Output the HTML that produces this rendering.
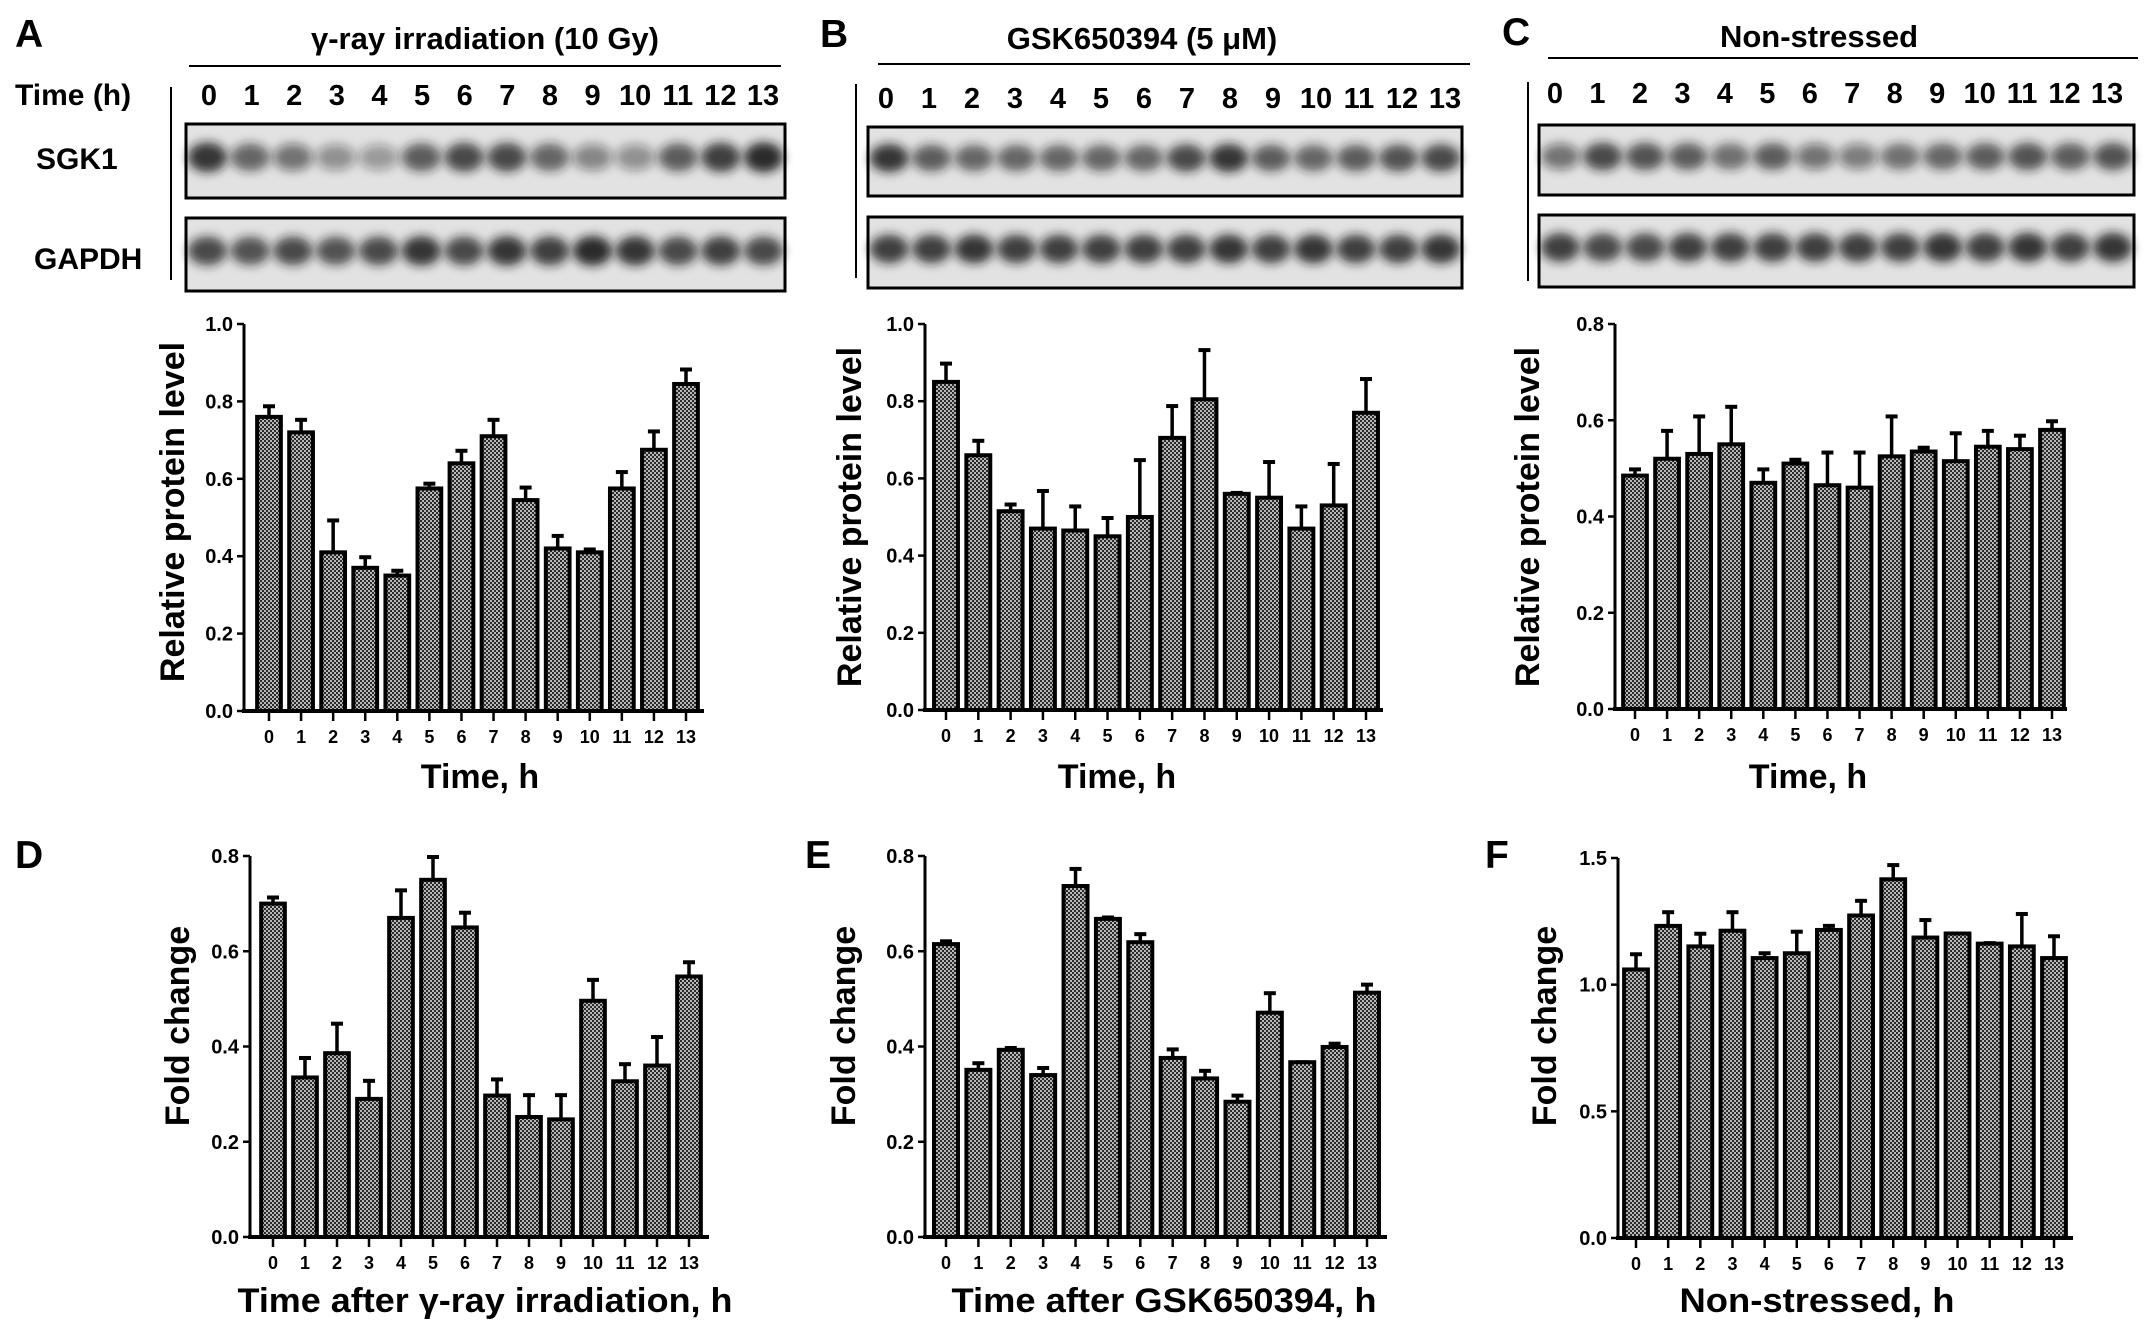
<!DOCTYPE html>
<html><head><meta charset="utf-8"><style>
html,body{margin:0;padding:0;background:#fff;}
svg{display:block;font-family:"Liberation Sans",Arial,sans-serif;font-weight:bold;}
</style></head><body>
<svg id="fig" width="2150" height="1337" viewBox="0 0 2150 1337" xmlns="http://www.w3.org/2000/svg">
<defs>
<pattern id="hatch" width="4" height="4" patternUnits="userSpaceOnUse">
<rect width="4" height="4" fill="#b8b8b8"/><rect width="2" height="2" fill="#2a2a2a"/><rect x="2" y="2" width="2" height="2" fill="#2a2a2a"/>
</pattern>
<filter id="blur" x="-50%" y="-50%" width="200%" height="200%"><feGaussianBlur stdDeviation="5"/></filter>
</defs>
</svg>
<script>
const categories = ['0','1','2','3','4','5','6','7','8','9','10','11','12','13'];
const aValues = [0.76,0.72,0.41,0.37,0.35,0.575,0.64,0.71,0.545,0.42,0.41,0.575,0.675,0.845];
const aErrors = [0.03,0.035,0.085,0.03,0.015,0.015,0.035,0.045,0.035,0.035,0.01,0.045,0.05,0.04];
const bValues = [0.85,0.66,0.515,0.47,0.465,0.45,0.50,0.705,0.805,0.56,0.55,0.47,0.53,0.77];
const bErrors = [0.05,0.04,0.02,0.10,0.065,0.05,0.15,0.085,0.13,0.005,0.095,0.06,0.11,0.09];
const cValues = [0.485,0.52,0.53,0.55,0.47,0.51,0.465,0.46,0.525,0.535,0.515,0.545,0.54,0.58];
const cErrors = [0.015,0.06,0.08,0.08,0.03,0.01,0.07,0.075,0.085,0.01,0.06,0.035,0.03,0.02];
const dValues = [0.70,0.335,0.386,0.29,0.67,0.75,0.65,0.297,0.252,0.247,0.496,0.327,0.36,0.547];
const dErrors = [0.015,0.043,0.064,0.04,0.06,0.05,0.033,0.036,0.048,0.053,0.046,0.038,0.062,0.032];
const eValues = [0.615,0.351,0.393,0.34,0.737,0.668,0.619,0.376,0.333,0.284,0.471,0.367,0.399,0.513];
const eErrors = [0.008,0.016,0.006,0.017,0.038,0.005,0.019,0.02,0.018,0.015,0.043,0.002,0.009,0.019];
const fValues = [1.06,1.232,1.151,1.213,1.105,1.124,1.216,1.273,1.416,1.186,1.202,1.162,1.151,1.105];
const fErrors = [0.064,0.058,0.054,0.077,0.023,0.089,0.02,0.062,0.06,0.073,0.003,0.006,0.132,0.09];
const tickLabels1 = ['0.0','0.2','0.4','0.6','0.8','1.0'];
const tickLabels08 = ['0.0','0.2','0.4','0.6','0.8'];
const tickLabels15 = ['0.0','0.5','1.0','1.5'];
const sgkA = [0.95,0.7,0.6,0.45,0.4,0.75,0.85,0.85,0.7,0.5,0.45,0.75,0.9,1];
const gapA = [0.85,0.8,0.85,0.8,0.85,0.95,0.85,0.95,0.9,1,0.95,0.85,0.9,0.85];
const sgkB = [0.95,0.75,0.7,0.7,0.7,0.7,0.7,0.85,0.95,0.75,0.7,0.75,0.8,0.85];
const gapB = [0.9,0.9,0.95,0.9,0.9,0.9,0.9,0.9,0.95,0.9,0.95,0.9,0.9,0.95];
const sgkC = [0.6,0.85,0.8,0.75,0.65,0.75,0.6,0.55,0.65,0.7,0.75,0.8,0.75,0.8];
const gapC = [0.9,0.85,0.85,0.9,0.9,0.9,0.9,0.9,0.9,0.95,0.9,0.95,0.9,0.95];

const NS='http://www.w3.org/2000/svg';
const svg=document.getElementById('fig');
function mk(tag,attrs,parent){const e=document.createElementNS(NS,tag);for(const k in attrs)e.setAttribute(k,attrs[k]);(parent||svg).appendChild(e);return e;}
function txt(s,attrs,parent){const e=mk('text',attrs,parent);e.textContent=s;return e;}

function panelLetter(s,x,y){
  const t=txt(s,{x:x,y:y,'font-size':39});
  
  
}

function blot(p){
  const g=mk('g',{});
  
  
  const tt=txt(p.title,{x:p.titleX,y:p.titleY,'font-size':31,'text-anchor':'middle'},g);
  
  
  const ln=mk('line',{x1:p.lineX1,x2:p.lineX2,y1:p.lineY,y2:p.lineY,stroke:'#000','stroke-width':2},g);
  
  
  const vl=mk('line',{x1:p.vx,x2:p.vx,y1:p.vy1,y2:p.vy2,stroke:'#000','stroke-width':2},g);
  
  
  const step=(p.lab13-p.lab0)/13;
  categories.forEach((c,i)=>{
    const l=txt(c,{x:p.lab0+i*step,y:p.labY,'font-size':29,'text-anchor':'middle'},g);
    
    
  });
  [[p.sY1,p.sY2,p.sgk,'sgk1'],[p.gY1,p.gY2,p.gap,'gapdh']].forEach(([y1,y2,ints,nm])=>{
    const bg=mk('rect',{x:p.bx1,y:y1,width:p.bx2-p.bx1,height:y2-y1,fill:'#e2e2e2'},g);
    
    
    const lw=(p.bx2-p.bx1)/14;
    const by=y1+(y2-y1)*0.45;
    ints.forEach((v,i)=>{
      const b=mk('ellipse',{cx:p.bx1+lw*(i+0.5),cy:by,rx:lw*0.46,ry:(y2-y1)*0.15+v*4,fill:'#1a1a1a','fill-opacity':v*0.9,filter:'url(#blur)'},g);
      
      
    });
    const fr=mk('rect',{x:p.bx1,y:y1,width:p.bx2-p.bx1,height:y2-y1,fill:'none',stroke:'#000','stroke-width':3},g);
    
    
  });
}

function chart(p){
  const g=mk('g',{});
  
  
  const yS=v=>p.y0-(v/p.ymax)*(p.y0-p.yTop);
  const step=(p.c13-p.c0)/13;
  const xS=i=>p.c0+i*step;
  const bw=step*0.74;
  p.values.forEach((v,i)=>{
    const e=p.errors[i];
    const et=mk('line',{x1:xS(i),x2:xS(i),y1:yS(v),y2:yS(v+e),stroke:'#000','stroke-width':3.5},g);
    
    
    const cap=mk('line',{x1:xS(i)-6,x2:xS(i)+6,y1:yS(v+e)+1,y2:yS(v+e)+1,stroke:'#000','stroke-width':4},g);
    
    
    const r=mk('rect',{x:xS(i)-bw/2,y:yS(v),width:bw,height:p.y0-yS(v),fill:'url(#hatch)',stroke:'#000','stroke-width':4},g);
    
    
    const tk=mk('line',{x1:xS(i),x2:xS(i),y1:p.y0,y2:p.y0+10,stroke:'#000','stroke-width':2.5},g);
    
    
    const tl=txt(categories[i],{x:xS(i),y:p.y0+32,'font-size':18,'text-anchor':'middle'},g);
    
    
  });
  const ya=mk('line',{x1:p.x0,x2:p.x0,y1:p.yTop,y2:p.y0,stroke:'#000','stroke-width':3},g);
  
  
  const xa=mk('line',{x1:p.x0-2,x2:p.xEnd,y1:p.y0,y2:p.y0,stroke:'#000','stroke-width':4},g);
  
  
  const n=p.ticks.length-1;
  p.ticks.forEach((t,i)=>{
    const v=p.ymax*i/n;
    const tk=mk('line',{x1:p.x0-7,x2:p.x0,y1:yS(v),y2:yS(v),stroke:'#000','stroke-width':2.5},g);
    
    
    const tl=txt(t,{x:p.x0-11,y:yS(v)+7,'font-size':20,'text-anchor':'end'},g);
    
    
  });
  const yt=txt(p.ytitle,{x:0,y:0,'font-size':34,'text-anchor':'middle',transform:'translate('+(p.ytX+12)+','+p.ytY+') rotate(-90)'},g);
  
  
  const xt=txt(p.xtitle,{x:p.xtX,y:p.xtY,'font-size':34,'text-anchor':'middle'},g);
  if(p.xtLen){xt.setAttribute('textLength',p.xtLen);xt.setAttribute('lengthAdjust','spacingAndGlyphs');}
  
  
}

panelLetter('A',15,47);panelLetter('B',820,47);panelLetter('C',1502,45);
panelLetter('D',15,868);panelLetter('E',805,868);panelLetter('F',1485,868);

const tl=txt('Time (h)',{x:15,y:105,'font-size':30});


const sl=txt('SGK1',{x:36,y:169,'font-size':30});


const gl=txt('GAPDH',{x:34,y:269,'font-size':30});



blot({id:'a',title:'γ-ray irradiation (10 Gy)',titleX:485,titleY:49,lineX1:189,lineX2:781,lineY:66,vx:171,vy1:87,vy2:280,lab0:209,lab13:763,labY:105,bx1:186,bx2:785,sY1:124,sY2:198,gY1:218,gY2:291,sgk:sgkA,gap:gapA});
blot({id:'b',title:'GSK650394 (5 μM)',titleX:1142,titleY:49,lineX1:878,lineX2:1470,lineY:64,vx:856,vy1:84,vy2:278,lab0:886,lab13:1445,labY:108,bx1:868,bx2:1462,sY1:127,sY2:196,gY1:217,gY2:288,sgk:sgkB,gap:gapB});
blot({id:'c',title:'Non-stressed',titleX:1819,titleY:47,lineX1:1548,lineX2:2138,lineY:58,vx:1528,vy1:82,vy2:281,lab0:1555,lab13:2107,labY:103,bx1:1539,bx2:2134,sY1:125,sY2:195,gY1:215,gY2:287,sgk:sgkC,gap:gapC});

chart({id:'a',values:aValues,errors:aErrors,x0:244,xEnd:704,yTop:324,y0:711,ymax:1.0,ticks:tickLabels1,c0:269,c13:686,ytitle:'Relative protein level',ytX:172,ytY:512,xtitle:'Time, h',xtX:480,xtY:788});
chart({id:'b',values:bValues,errors:bErrors,x0:925,xEnd:1383,yTop:324,y0:710,ymax:1.0,ticks:tickLabels1,c0:946,c13:1366,ytitle:'Relative protein level',ytX:849,ytY:517,xtitle:'Time, h',xtX:1117,xtY:788});
chart({id:'c',values:cValues,errors:cErrors,x0:1615,xEnd:2067,yTop:324,y0:709,ymax:0.8,ticks:tickLabels08,c0:1635,c13:2052,ytitle:'Relative protein level',ytX:1527,ytY:517,xtitle:'Time, h',xtX:1808,xtY:788});
chart({id:'d',values:dValues,errors:dErrors,x0:250,xEnd:709,yTop:856,y0:1237,ymax:0.8,ticks:tickLabels08,c0:273,c13:689,ytitle:'Fold change',ytX:177,ytY:1026,xtitle:'Time after γ-ray irradiation, h',xtX:485,xtY:1312,xtLen:495});
chart({id:'e',values:eValues,errors:eErrors,x0:925,xEnd:1387,yTop:856,y0:1237,ymax:0.8,ticks:tickLabels08,c0:946,c13:1367,ytitle:'Fold change',ytX:843,ytY:1026,xtitle:'Time after GSK650394, h',xtX:1164,xtY:1312,xtLen:425});
chart({id:'f',values:fValues,errors:fErrors,x0:1618,xEnd:2073,yTop:858,y0:1238,ymax:1.5,ticks:tickLabels15,c0:1636,c13:2054,ytitle:'Fold change',ytX:1544,ytY:1026,xtitle:'Non-stressed, h',xtX:1817,xtY:1312,xtLen:275});
</script>
</body></html>
